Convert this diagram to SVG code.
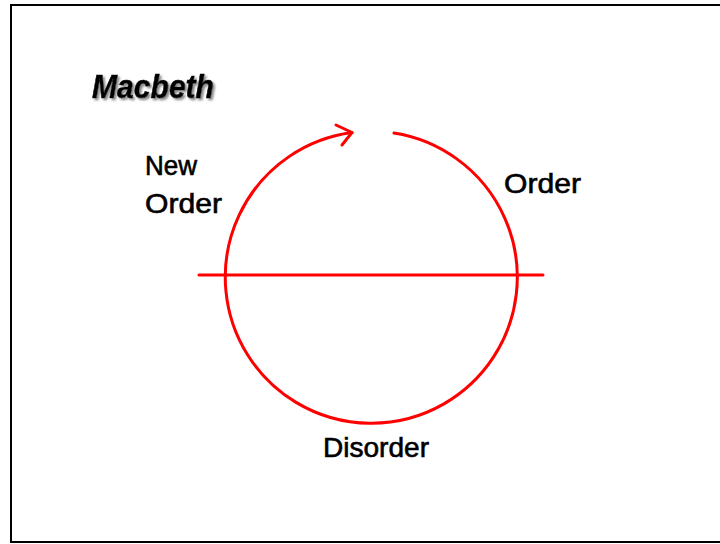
<svg xmlns="http://www.w3.org/2000/svg" width="720" height="544" viewBox="0 0 720 544">
<defs>
<filter id="shadow" x="-10%" y="-20%" width="130%" height="150%">
<feDropShadow dx="2" dy="2" stdDeviation="0.8" flood-color="#888" flood-opacity="1"/>
</filter>
</defs>
<style>
.lbl{font-family:"Liberation Sans","DejaVu Sans",sans-serif;font-size:27px;fill:#000;stroke:#000;stroke-width:0.6;}
.red{fill:none;stroke:#ff0000;stroke-width:3;stroke-linecap:round;stroke-linejoin:round;}
</style>
<rect x="0" y="0" width="720" height="544" fill="#fff"/>
<rect x="11" y="5" width="720" height="537" fill="none" stroke="#000" stroke-width="2"/>
<g id="title">
<text x="92" y="98" class="lbl" filter="url(#shadow)" style="font-size:33px;font-weight:bold;font-style:italic" textLength="122" lengthAdjust="spacingAndGlyphs">Macbeth</text>
</g>
<g id="connectors">
<path class="red" d="M394 133 A146 146 0 1 1 352 132.5"/>
<path class="red" d="M336 125 L352 132.5 L342 145"/>
<line class="red" x1="199" y1="275" x2="543" y2="275"/>
</g>
<g id="new-order">
<text x="145" y="175" class="lbl" textLength="52" lengthAdjust="spacingAndGlyphs">New</text>
<text x="145" y="213" class="lbl" textLength="77" lengthAdjust="spacingAndGlyphs">Order</text>
</g>
<g id="order">
<text x="504" y="193" class="lbl" textLength="77" lengthAdjust="spacingAndGlyphs">Order</text>
</g>
<g id="disorder">
<text x="323" y="457" class="lbl" textLength="106" lengthAdjust="spacingAndGlyphs">Disorder</text>
</g>
</svg>
